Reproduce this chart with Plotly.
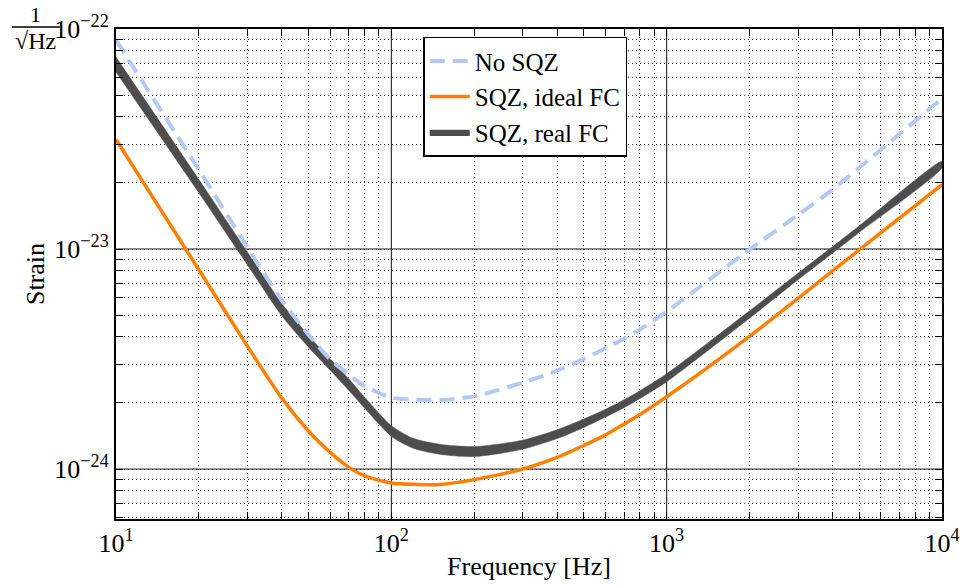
import plotly.graph_objects as go

freq = [10, 20, 30, 40, 50, 60, 70, 80, 100, 120, 150, 200, 300, 400, 500, 600, 700, 800,
        1000, 2000, 3000, 4000, 5000, 10000]

no_sqz = [8.9e-23, 2.29e-23, 1.02e-23, 5.85e-24, 4.08e-24, 3.15e-24, 2.69e-24, 2.38e-24,
          2.11e-24, 2.07e-24, 2.06e-24, 2.14e-24, 2.47e-24, 2.8e-24, 3.17e-24, 3.54e-24, 3.91e-24,
          4.31e-24, 5.2e-24, 9.95e-24, 1.43e-23, 1.86e-23, 2.34e-23, 4.83e-23]

sqz_ideal = [3.15e-23, 8.05e-24, 3.62e-24, 2.1e-24, 1.49e-24, 1.19e-24, 1.02e-24, 9.3e-25,
             8.65e-25, 8.52e-25, 8.5e-25, 8.95e-25, 1.0e-24, 1.13e-24, 1.28e-24, 1.43e-24, 1.6e-24,
             1.77e-24, 2.13e-24, 4.01e-24, 5.96e-24, 7.95e-24, 9.9e-24, 1.96e-23]

sqz_real_upper = [7.46e-23, 2.07e-23, 9.69e-24, 5.65e-24, 4.05e-24, 3.16e-24, 2.57e-24, 2.12e-24,
                  1.575e-24, 1.38e-24, 1.296e-24, 1.265e-24, 1.353e-24, 1.508e-24, 1.688e-24,
                  1.87e-24, 2.063e-24, 2.272e-24, 2.71e-24, 5.24e-24, 7.76e-24, 1.025e-23,
                  1.273e-23, 2.505e-23]
sqz_real_lower = [6.38e-23, 1.80e-23, 8.48e-24, 4.97e-24, 3.58e-24, 2.81e-24, 2.28e-24, 1.89e-24,
                  1.41e-24, 1.243e-24, 1.167e-24, 1.139e-24, 1.23e-24, 1.375e-24, 1.545e-24,
                  1.723e-24, 1.90e-24, 2.092e-24, 2.495e-24, 4.85e-24, 7.25e-24, 9.57e-24,
                  1.188e-23, 2.338e-23]

x_decades = [10, 100, 1000, 10000]
x_decade_labels = ["10<sup>1</sup>", "10<sup>2</sup>", "10<sup>3</sup>", "10<sup>4</sup>"]
y_decades = [1e-24, 1e-23, 1e-22]
y_decade_labels = ["10<sup>\u221224</sup>", "10<sup>\u221223</sup>", "10<sup>\u221222</sup>"]

FONT = "Liberation Serif, Times New Roman, serif"

# tick lists (minor 2..9 per decade)
xt, xl = [], []
for d in [10, 100, 1000]:
    for m in range(1, 10):
        xt.append(d * m)
        xl.append(x_decade_labels[x_decades.index(d)] if m == 1 else "")
xt.append(10000); xl.append(x_decade_labels[3])

yt, yl = [], []
for m in [6, 7, 8, 9]:
    yt.append(m * 1e-25); yl.append("")
for d in [1e-24, 1e-23]:
    for m in range(1, 10):
        yt.append(d * m)
        yl.append(y_decade_labels[y_decades.index(d)] if m == 1 else "")
yt.append(1e-22); yl.append(y_decade_labels[2])

fig = go.Figure()

fig.add_trace(go.Scatter(
    x=freq + freq[::-1], y=sqz_real_upper + sqz_real_lower[::-1],
    fill="toself", fillcolor="#4d4d4d", mode="lines",
    line=dict(color="#4d4d4d", width=0.5, shape="spline", smoothing=0.7),
    name="SQZ, real FC", legendrank=3))
fig.add_trace(go.Scatter(
    x=freq, y=sqz_ideal, mode="lines",
    line=dict(color="#ff8000", width=3.5, shape="spline", smoothing=0.7),
    name="SQZ, ideal FC", legendrank=2))
fig.add_trace(go.Scatter(
    x=freq, y=no_sqz, mode="lines",
    line=dict(color="#b4c8f8", width=4, dash="15px,8px", shape="spline", smoothing=0.7),
    name="No SQZ", legendrank=1))

shapes = []
for v in [100, 1000]:
    shapes.append(dict(type="line", xref="x", yref="paper", x0=v, x1=v, y0=0, y1=1,
                       line=dict(color="#111", width=1), layer="below"))
for v in [1e-23, 1e-24]:
    shapes.append(dict(type="line", xref="paper", yref="y", x0=0, x1=1, y0=v, y1=v,
                       line=dict(color="#111", width=1), layer="below"))
# fraction bar for 1/sqrt(Hz)
shapes.append(dict(type="line", xref="paper", yref="paper", x0=-0.126, x1=-0.068,
                   y0=1.004, y1=1.004, line=dict(color="black", width=1.5)))

axis_common = dict(
    type="log", showline=True, linecolor="black", linewidth=2, mirror="all",
    ticks="inside", ticklen=7, tickcolor="black", tickwidth=1,
    showgrid=True, gridcolor="#333", gridwidth=1, griddash="1px,3px",
    tickfont=dict(family=FONT, size=26, color="black"),
    zeroline=False, automargin=False,
)

fig.update_layout(
    width=965, height=585,
    margin=dict(l=116, r=23, t=29, b=66),
    paper_bgcolor="white", plot_bgcolor="white",
    font=dict(family=FONT, color="black"),
    xaxis=dict(axis_common, range=[1, 4], tickmode="array", tickvals=xt, ticktext=xl,
               title=dict(text="Frequency [Hz]", font=dict(family=FONT, size=26), standoff=0)),
    yaxis=dict(axis_common, range=[-24.227, -22], tickmode="array", tickvals=yt, ticktext=yl,
               title=dict(text="Strain", font=dict(family=FONT, size=26), standoff=2)),
    legend=dict(x=0.372, y=0.984, xanchor="left", yanchor="top",
                bgcolor="white", bordercolor="black", borderwidth=1.5,
                font=dict(family=FONT, size=25, color="black"),
                itemwidth=40, tracegroupgap=0),
    shapes=shapes,
    annotations=[
        dict(text="1", xref="paper", yref="paper", x=-0.0969, y=1.03, showarrow=False,
             font=dict(family=FONT, size=22, color="black"), xanchor="center", yanchor="middle"),
        dict(text="\u221aHz", xref="paper", yref="paper", x=-0.0969, y=0.976, showarrow=False,
             font=dict(family=FONT, size=24, color="black"), xanchor="center", yanchor="middle"),
    ],
    showlegend=True,
)

fig.write_html("out.html", config={"displayModeBar": False},
               post_script="document.body.style.margin='0px';")
